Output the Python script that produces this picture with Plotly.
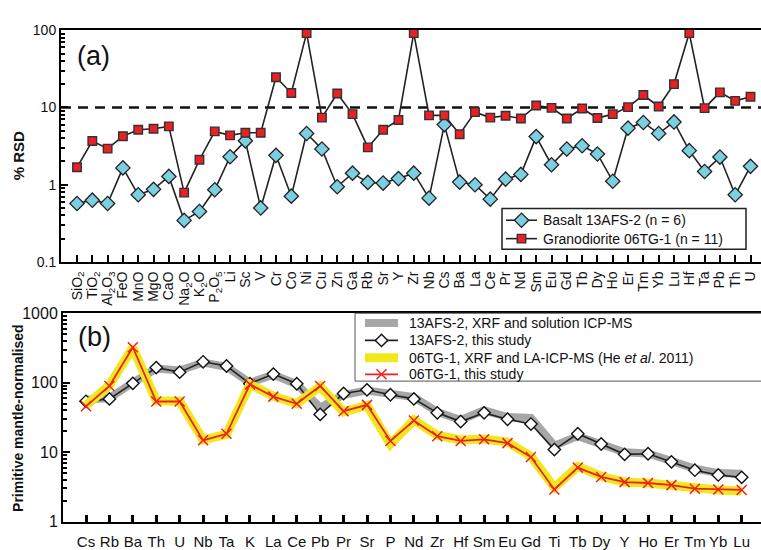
import plotly.graph_objects as go

# ---------------- Panel (a): % RSD of repeat analyses ----------------
rsd_labels = [
    "SiO<sub>2</sub>", "TiO<sub>2</sub>", "Al<sub>2</sub>O<sub>3</sub>", "FeO", "MnO", "MgO", "CaO",
    "Na<sub>2</sub>O", "K<sub>2</sub>O", "P<sub>2</sub>O<sub>5</sub>", "Li", "Sc", "V", "Cr", "Co", "Ni",
    "Cu", "Zn", "Ga", "Rb", "Sr", "Y", "Zr", "Nb", "Cs", "Ba", "La", "Ce", "Pr", "Nd", "Sm", "Eu",
    "Gd", "Tb", "Dy", "Ho", "Er", "Tm", "Yb", "Lu", "Hf", "Ta", "Pb", "Th", "U",
]
basalt_rsd = [
    0.57, 0.63, 0.57, 1.65, 0.74, 0.87, 1.28, 0.345, 0.45, 0.86,
    2.3, 3.7, 0.5, 2.4, 0.71, 4.6, 2.9, 0.94, 1.41, 1.07, 1.05, 1.2, 1.41, 0.67, 6.0, 1.08, 1.0, 0.65,
    1.18, 1.36, 4.2, 1.81, 2.9, 3.2, 2.5, 1.11, 5.4, 6.4, 4.6, 6.5, 2.76, 1.48, 2.28, 0.74, 1.73,
]
granodiorite_rsd = [
    1.68, 3.68, 2.93, 4.25, 5.15, 5.3, 5.7, 0.79, 2.1, 4.9,
    4.35, 4.7, 4.7, 24.6, 15.4, 92, 7.4, 15.2, 8.2, 3.04, 5.15, 6.9, 92, 7.9, 7.9, 4.5, 8.7, 7.4,
    7.8, 7.2, 10.6, 9.9, 7.2, 9.7, 7.3, 8.2, 10.1, 14.5, 10.3, 20.1, 92, 9.8, 15.7, 12.2, 13.8,
]
rsd_threshold = 10

# ---------------- Panel (b): primitive-mantle-normalised patterns ----------------
pm_labels = [
    "Cs", "Rb", "Ba", "Th", "U", "Nb", "Ta", "K", "La", "Ce", "Pb", "Pr", "Sr", "P", "Nd",
    "Zr", "Hf", "Sm", "Eu", "Gd", "Ti", "Tb", "Dy", "Y", "Ho", "Er", "Tm", "Yb", "Lu",
]
afs_reference = [
    57, 60, 100, 160, 150, 195, 170, 100, 130, 95, 44, 67, 77, 68, 62,
    38, 29, 40, 32, 31, 12.4, 17, 13, 10, 9.6, 7.6, 5.8, 5.0, 4.9,
]
afs_this_study = [
    54, 58.5, 98, 165, 142, 200, 174, 97, 133, 96.6, 35, 70, 79, 67, 58.5,
    36.8, 27.6, 36.8, 29.8, 25.4, 10.9, 18.4, 13.1, 9.3, 9.5, 7.25, 5.5, 4.7, 4.34,
]
tg_reference = [
    47, 92, 320, 55, 54, 15, 18, 95, 64, 50, 88, 38, 47, 13, 29,
    17.5, 15, 15.5, 14, 8.7, 3.1, 6.2, 4.5, 3.7, 3.6, 3.3, 3.0, 2.85, 2.75,
]
tg_this_study = [
    45.7, 89.7, 324, 53.6, 53.6, 14.8, 18.4, 94.7, 63, 49.8, 89.7, 38.9, 48, 14.5, 28.5,
    17, 14.5, 15.3, 13.5, 8.5, 2.9, 6.0, 4.4, 3.7, 3.6, 3.35, 2.98, 2.9, 2.86,
]

FONT = "Liberation Sans, Arial, sans-serif"
INK = "#111111"
W, H = 761, 550

xa = list(range(len(rsd_labels)))
xb = list(range(len(pm_labels)))

# series styles (shared by the plotted series and their key entries)
sty_basalt = dict(line=dict(color="#222222", width=1.6),
                  marker=dict(symbol="diamond", size=11, color="#7ccfe0",
                              line=dict(color="#222222", width=1.3)))
sty_grano = dict(line=dict(color="#222222", width=1.6),
                 marker=dict(symbol="square", size=8.5, color="#ec2024",
                             line=dict(color="#333333", width=1.4)))
sty_afs_ref = dict(line=dict(color="rgba(150,150,150,0.85)", width=8))
sty_afs = dict(line=dict(color="#222222", width=1.6),
               marker=dict(symbol="diamond", size=9.5, color="white",
                           line=dict(color="#111111", width=1.4)))
sty_tg_ref = dict(line=dict(color="#f0e81c", width=9))
sty_tg = dict(line=dict(color="#f02020", width=1.8),
              marker=dict(symbol="x-thin", size=10, color="#f02020",
                          line=dict(color="#f02020", width=1.5)))

fig = go.Figure()

# panel (a)
fig.add_trace(go.Scatter(x=xa, y=basalt_rsd, mode="lines+markers", name="Basalt 13AFS-2 (n = 6)",
                         xaxis="x", yaxis="y", cliponaxis=False, **sty_basalt))
fig.add_trace(go.Scatter(x=xa, y=granodiorite_rsd, mode="lines+markers",
                         name="Granodiorite 06TG-1 (n = 11)",
                         xaxis="x", yaxis="y", cliponaxis=False, **sty_grano))

# panel (b)
fig.add_trace(go.Scatter(x=xb, y=afs_reference, mode="lines", name="13AFS-2, XRF and solution ICP-MS",
                         xaxis="x2", yaxis="y2", **sty_afs_ref))
fig.add_trace(go.Scatter(x=xb, y=afs_this_study, mode="lines+markers", name="13AFS-2, this study",
                         xaxis="x2", yaxis="y2", **sty_afs))
fig.add_trace(go.Scatter(x=xb, y=tg_reference, mode="lines",
                         name="06TG-1, XRF and LA-ICP-MS (He <i>et al</i>. 2011)",
                         xaxis="x2", yaxis="y2", **sty_tg_ref))
fig.add_trace(go.Scatter(x=xb, y=tg_this_study, mode="lines+markers", name="06TG-1, this study",
                         xaxis="x2", yaxis="y2", **sty_tg))

# dashed 10 % reference line in panel (a)
fig.add_shape(type="line", xref="x domain", yref="y", x0=0, x1=1, y0=rsd_threshold, y1=rsd_threshold,
              line=dict(color=INK, width=2.5, dash="10px,7px"), layer="below")


def minor_vals(lo, hi):
    vals = []
    d = lo
    while d < hi:
        vals += [d * k for k in range(2, 10)]
        d *= 10
    return vals


# pixel geometry of the two plot areas
ax_a = dict(l=61, r=761, t=23, b=262)
ax_b = dict(l=63, r=761, t=315, b=530)

na = len(rsd_labels)
sa = (750.5 - 77) / (na - 1)
nb = len(pm_labels)
sb = (741.7 - 86) / (nb - 1)

axis_common = dict(showline=True, linecolor="black", linewidth=2, showgrid=False, zeroline=False,
                   ticks="inside", tickcolor="black")

fig.update_layout(
    width=W, height=H, margin=dict(l=0, r=0, t=0, b=0),
    paper_bgcolor="white", plot_bgcolor="rgba(0,0,0,0)",
    font=dict(family=FONT, color=INK),
    showlegend=False,
    xaxis=dict(
        domain=[ax_a["l"] / W, ax_a["r"] / W], anchor="y",
        range=[-(77 - ax_a["l"]) / sa, (na - 1) + (ax_a["r"] - 750.5) / sa],
        tickmode="array", tickvals=xa, ticktext=rsd_labels, tickangle=-90,
        tickfont=dict(size=14, family=FONT), ticklen=7, tickwidth=2, mirror=True,
        ticklabelstandoff=2,
        **axis_common,
    ),
    yaxis=dict(
        domain=[1 - ax_a["b"] / H, 1 - ax_a["t"] / H], anchor="x", type="log", range=[-1, 2],
        tickmode="array", tickvals=[0.1, 1, 10, 100], ticktext=["0.1", "1", "10", "100"],
        tickfont=dict(size=14, family=FONT), ticklen=7, tickwidth=2,
        minor=dict(tickmode="array", tickvals=minor_vals(0.1, 100), ticks="inside", ticklen=4,
                   tickwidth=1.5, tickcolor="black", showgrid=False),
        **axis_common,
    ),
    xaxis2=dict(
        domain=[ax_b["l"] / W, ax_b["r"] / W], anchor="y2",
        range=[-(86 - ax_b["l"]) / sb, (nb - 1) + (ax_b["r"] - 741.7) / sb],
        tickmode="array", tickvals=xb, ticktext=pm_labels, tickangle=0,
        tickfont=dict(size=15, family=FONT), ticklen=7, tickwidth=2.5, mirror=True,
        ticklabelstandoff=5,
        **axis_common,
    ),
    yaxis2=dict(
        domain=[1 - ax_b["b"] / H, 1 - ax_b["t"] / H], anchor="x2", type="log", range=[0, 3],
        tickmode="array", tickvals=[1, 10, 100, 1000], ticktext=["1", "10", "100", "1000"],
        tickfont=dict(size=16, family=FONT), ticklen=7, tickwidth=2,
        minor=dict(tickmode="array", tickvals=minor_vals(1, 1000), ticks="inside", ticklen=4,
                   tickwidth=1.5, tickcolor="black", showgrid=False),
        **axis_common,
    ),
    # invisible page-pixel axes used to lay out the keys
    xaxis3=dict(domain=[0, 1], range=[0, W], visible=False, fixedrange=True, anchor="y3"),
    yaxis3=dict(domain=[0, 1], range=[H, 0], visible=False, fixedrange=True, anchor="x3"),
)


def key_box(x0, y0, x1, y1, border, width):
    fig.add_shape(type="rect", xref="x3", yref="y3", x0=x0, y0=y0, x1=x1, y1=y1,
                  fillcolor="white", line=dict(color=border, width=width), layer="below")


def key_entry(y, x0, x1, tx, label, style, size=14):
    fig.add_trace(go.Scatter(x=[x0, x1], y=[y, y], mode="lines", line=style["line"],
                             xaxis="x3", yaxis="y3", showlegend=False, hoverinfo="skip",
                             cliponaxis=False))
    if "marker" in style:
        fig.add_trace(go.Scatter(x=[(x0 + x1) / 2], y=[y], mode="markers", marker=style["marker"],
                                 xaxis="x3", yaxis="y3", showlegend=False, hoverinfo="skip",
                                 cliponaxis=False))
    fig.add_annotation(text=label, xref="x3", yref="y3", x=tx, y=y, xanchor="left",
                       yanchor="middle", showarrow=False,
                       font=dict(size=size, family=FONT, color=INK))


# key for panel (a)
key_box(502, 207, 746, 249, "#222222", 1.5)
key_entry(219, 506, 537, 541, "Basalt 13AFS-2 (n = 6)", sty_basalt)
key_entry(238, 506, 537, 541, "Granodiorite 06TG-1 (n = 11)", sty_grano)

# key for panel (b)
key_box(355, 315, 764, 385, "#555555", 1)
key_entry(325, 365, 398, 407, "13AFS-2, XRF and solution ICP-MS", sty_afs_ref)
key_entry(343, 365, 398, 407, "13AFS-2, this study", sty_afs)
key_entry(361, 365, 398, 407, "06TG-1, XRF and LA-ICP-MS (He <i>et al</i>. 2011)", sty_tg_ref)
key_entry(378, 365, 398, 407, "06TG-1, this study", sty_tg)

# panel letters and axis titles
fig.add_annotation(text="(a)", xref="paper", yref="paper", x=75 / W, y=1 - 50 / H,
                   xanchor="left", yanchor="middle", showarrow=False,
                   font=dict(size=27, family=FONT, color=INK))
fig.add_annotation(text="(b)", xref="paper", yref="paper", x=76 / W, y=1 - 340 / H,
                   xanchor="left", yanchor="middle", showarrow=False,
                   font=dict(size=27, family=FONT, color=INK))
fig.add_annotation(text="<b>% RSD</b>", xref="paper", yref="paper", x=18 / W, y=1 - 153 / H,
                   xanchor="center", yanchor="middle", textangle=-90, showarrow=False,
                   font=dict(size=15, family=FONT, color=INK))
fig.add_annotation(text="<b>Primitive mantle-normalised</b>", xref="paper", yref="paper",
                   x=18 / W, y=1 - 423 / H, xanchor="center", yanchor="middle", textangle=-90,
                   showarrow=False, font=dict(size=14, family=FONT, color=INK))

fig.write_html("out.html")
